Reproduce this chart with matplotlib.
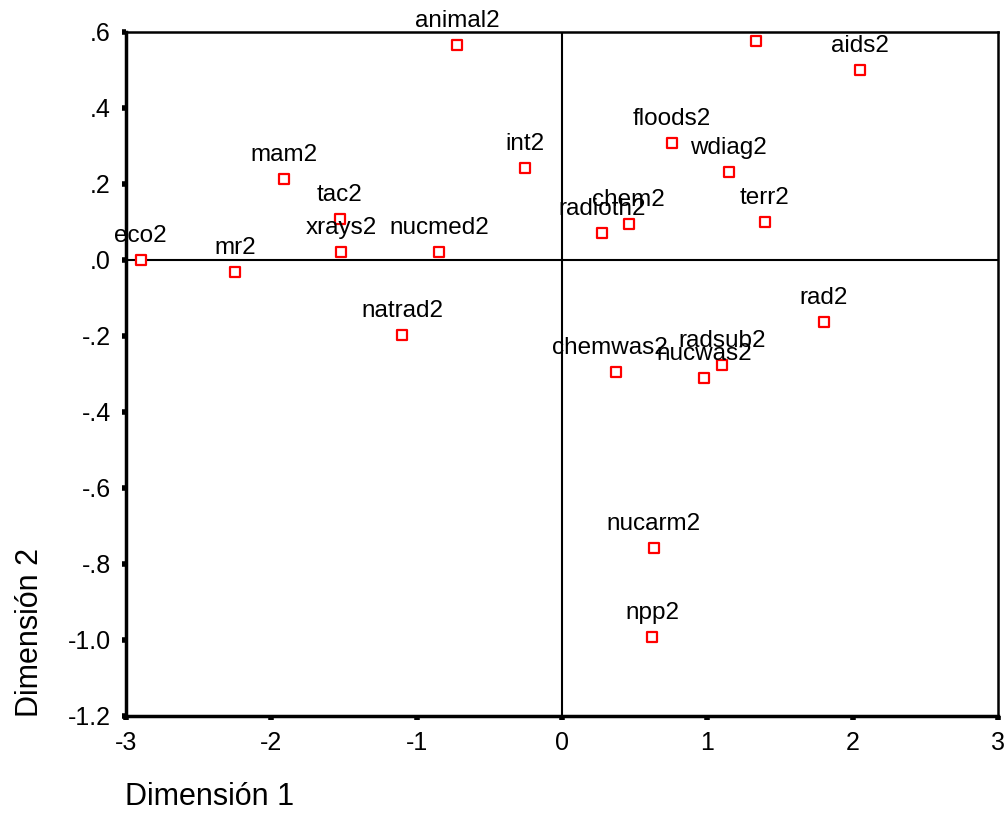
import matplotlib
matplotlib.use("Agg")
import matplotlib.pyplot as plt

plt.rcParams["font.family"] = ["Liberation Sans", "DejaVu Sans"]

# --- data ------------------------------------------------------------------
labels = ["eco2", "mr2", "mam2", "tac2", "xrays2", "nucmed2", "natrad2",
          "animal2", "int2", "radioth2", "chem2", "floods2", "wdiag2",
          "terr2", "", "aids2", "rad2", "chemwas2", "nucwas2", "radsub2",
          "nucarm2", "npp2"]
dim1 = [-2.90, -2.25, -1.91, -1.53, -1.52, -0.845, -1.10,
        -0.72, -0.254, 0.275, 0.46, 0.756, 1.148,
        1.395, 1.333, 2.048, 1.80, 0.371, 0.976, 1.10,
        0.632, 0.619]
dim2 = [0.0, -0.032, 0.213, 0.108, 0.021, 0.021, -0.197,
        0.566, 0.242, 0.071, 0.095, 0.308, 0.232,
        0.10, 0.576, 0.50, -0.163, -0.295, -0.31, -0.276,
        -0.758, -0.992]

xticks = [-3, -2, -1, 0, 1, 2, 3]
yticks = [0.6, 0.4, 0.2, 0.0, -0.2, -0.4, -0.6, -0.8, -1.0, -1.2]
ytick_labels = [".6", ".4", ".2", ".0", "-.2", "-.4", "-.6", "-.8", "-1.0", "-1.2"]

fig = plt.figure(figsize=(10.07, 8.31), dpi=100)
ax = fig.add_axes([0.1251, 0.1384, 0.866, 0.8231])

ax.axhline(0, color="black", linewidth=1.5, zorder=1)
ax.axvline(0, color="black", linewidth=1.5, zorder=1)

ax.scatter(dim1, dim2, marker="s", s=60, facecolors="white",
           edgecolors="#ff0000", linewidths=1.6, zorder=3)

# point labels sit centred above each marker, SPSS style
# (overlapping labels are overlapping in the original too)
for lab, x, y in zip(labels, dim1, dim2):
    if not lab:
        continue
    dx = -4 if lab == "chemwas2" else 0
    ax.annotate(lab, (x, y), xytext=(dx, 13), textcoords="offset points",
                ha="center", va="baseline", fontsize=17.5, color="black",
                zorder=4)

ax.set_xlim(-3, 3)
ax.set_ylim(-1.2, 0.6)
ax.set_xticks(xticks)
ax.set_xticklabels([str(t) for t in xticks])
ax.set_yticks(yticks)
ax.set_yticklabels(ytick_labels)
ax.tick_params(axis="both", direction="out", length=3, width=4,
               labelsize=18, colors="black")
ax.tick_params(axis="y", pad=8)
ax.tick_params(axis="x", pad=8)

for side in ("left", "bottom"):
    ax.spines[side].set_linewidth(2.5)
for side in ("top", "right"):
    ax.spines[side].set_linewidth(1.8)

fig.text(0.124, 0.041, "Dimensión 1", fontsize=22, ha="left", va="center")
fig.text(0.03, 0.137, "Dimensión 2", fontsize=22, rotation=90,
         ha="center", va="bottom")

fig.savefig("out.png", dpi=100)
